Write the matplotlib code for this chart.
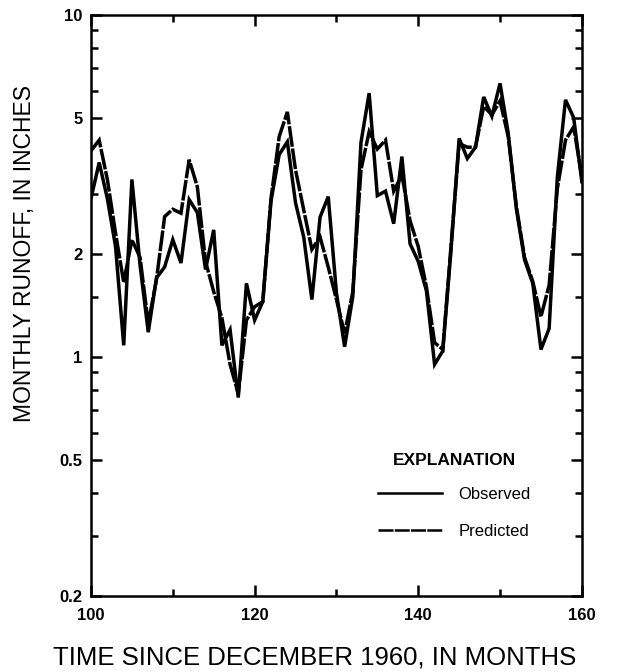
import numpy as np
import matplotlib
matplotlib.use("Agg")
import matplotlib.pyplot as plt
from matplotlib.ticker import FixedLocator, NullFormatter, FuncFormatter

# months since December 1960
months = list(range(100, 161))

# monthly runoff, inches
observed = [2.9, 3.7, 2.9, 2.1, 1.08, 3.3, 1.85, 1.18, 1.7, 1.83,
            2.2, 1.88, 2.88, 2.64, 1.8, 2.35, 1.08, 1.2, 0.76, 1.64,
            1.28, 1.45, 2.85, 3.9, 4.25, 2.82, 2.24, 1.47, 2.56, 2.94,
            1.54, 1.07, 1.5, 4.23, 5.9, 2.96, 3.05, 2.45, 3.85, 2.14,
            1.9, 1.56, 0.95, 1.04, 2.04, 4.35, 3.8, 4.1, 5.75, 5.05,
            6.3, 4.5, 2.7, 1.92, 1.64, 1.05, 1.21, 3.35, 5.64, 5.0,
            3.25]
predicted = [4.0, 4.3, 3.3, 2.3, 1.65, 2.2, 1.95, 1.25, 1.68, 2.57,
             2.7, 2.63, 3.77, 3.14, 1.9, 1.55, 1.3, 0.95, 0.78, 1.28,
             1.4, 1.45, 2.9, 4.4, 5.2, 3.52, 2.69, 2.06, 2.24, 1.83,
             1.47, 1.17, 1.55, 3.52, 4.55, 4.05, 4.3, 3.05, 3.4, 2.5,
             2.1, 1.6, 1.1, 1.05, 2.1, 4.2, 4.1, 4.1, 5.4, 5.1,
             5.6, 4.4, 2.75, 1.95, 1.66, 1.31, 1.62, 3.1, 4.3, 4.7,
             3.35]

yticks_major = [0.2, 0.5, 1, 2, 5, 10]
yticks_minor = [0.3, 0.4, 0.6, 0.7, 0.8, 0.9, 1.5, 3, 6, 7, 8, 9]
xticks_major = [100, 120, 140, 160]
xticks_minor = [110, 130, 150]

plt.rcParams['font.family'] = ['Liberation Sans', 'DejaVu Sans']

fig = plt.figure(figsize=(6.19, 6.71), dpi=100)
ax = fig.add_axes([0.147, 0.112, 0.793, 0.866])

lw = 2.5
ax.plot(months, observed, color='black', lw=lw, solid_joinstyle='miter',
        label='Observed')
ax.plot(months, predicted, color='black', lw=lw, dashes=(6, 0.5),
        dash_joinstyle='miter', label='Predicted')

ax.set_yscale('log')
ax.set_xlim(100, 160)
ax.set_ylim(0.2, 10)

ax.yaxis.set_major_locator(FixedLocator(yticks_major))
ax.yaxis.set_minor_locator(FixedLocator(yticks_minor))
ax.yaxis.set_major_formatter(FuncFormatter(lambda v, p: '%g' % v))
ax.yaxis.set_minor_formatter(NullFormatter())
ax.xaxis.set_major_locator(FixedLocator(xticks_major))
ax.xaxis.set_minor_locator(FixedLocator(xticks_minor))

ax.tick_params(which='both', direction='in', top=True, right=True,
               width=1.8, labelsize=12)
ax.tick_params(which='major', length=8)
ax.tick_params(axis='x', which='major', pad=9)
ax.tick_params(axis='y', which='major', pad=6)
ax.tick_params(which='minor', length=5)
for lab in ax.get_xticklabels() + ax.get_yticklabels():
    lab.set_fontweight('bold')
for s in ax.spines.values():
    s.set_linewidth(1.8)

ax.set_xlabel('TIME SINCE DECEMBER 1960, IN MONTHS', fontsize=18.5)
ax.xaxis.set_label_coords(0.455, -0.085)
ax.set_ylabel('MONTHLY RUNOFF, IN INCHES', fontsize=16.5)
ax.yaxis.set_label_coords(-0.112, 0.59)

leg = ax.legend(loc='upper left', bbox_to_anchor=(0.555, 0.272), frameon=False,
                title='EXPLANATION', fontsize=12, handlelength=3.8,
                handletextpad=1.0, labelspacing=1.3)
leg.get_title().set_fontsize(12.5)
leg.get_title().set_fontweight('bold')
leg._legend_box.sep = 14
for h in leg.get_lines():
    h.set_linewidth(1.8)

fig.savefig('out.png', dpi=100)
